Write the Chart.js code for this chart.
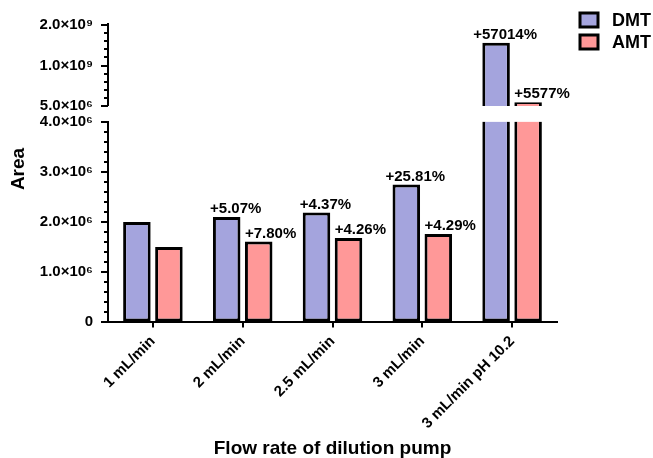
<!DOCTYPE html>
<html>
<head>
<meta charset="utf-8">
<script src="https://cdn.jsdelivr.net/npm/chart.js@4/dist/chart.umd.min.js"></script>
<style>
  html, body { margin: 0; padding: 0; background: #fff; }
  #wrap { width: 653px; height: 458px; }
</style>
</head>
<body>
<div id="wrap"><canvas id="areaChart"></canvas></div>
<script>
// flow rates (x axis)
const categories = ['1 mL/min', '2 mL/min', '2.5 mL/min', '3 mL/min', '3 mL/min pH 10.2'];
// peak areas
const dmtArea = [1.99e6, 2.09e6, 2.18e6, 2.74e6, 1.56e9];
const amtArea = [1.49e6, 1.60e6, 1.67e6, 1.75e6, 9.8e7];
// change vs previous flow rate, printed above the bars
const dmtChange = ['', '+5.07%', '+4.37%', '+25.81%', '+57014%'];
const amtChange = ['', '+7.80%', '+4.26%', '+4.29%', '+5577%'];

// broken y axis: lower part 0..4e6, upper part from 5e6 up
const lowerMax = 4.0e6;
const upperStart = 5.0e6;
const lowerTicks = [0, 1e6, 2e6, 3e6, 4e6];
const upperTicks = [5e6, 1e9, 2e9];

const colors = { DMT: '#a4a4dd', AMT: '#ff9898' };
const FONT = '"Liberation Sans", Arial, sans-serif';

Chart.defaults.font.family = FONT;
Chart.defaults.color = '#000';

function sciLabel(v) {
    if (v === 0) return '0';
    const exp = Math.floor(Math.log10(v) + 1e-9);
    const sup = { 6: '\u2076', 9: '\u2079' };
    return (v / Math.pow(10, exp)).toFixed(1) + '\u00d710' + sup[exp];
}

const lowPart = arr => arr.map(v => Math.min(v, lowerMax));
const highPart = arr => arr.map(v => v > lowerMax ? v : null);

function lowerSet(label, arr) {
    return {
        label: label,
        data: lowPart(arr),
        yAxisID: 'y',
        stack: label,
        backgroundColor: colors[label],
        borderColor: '#000',
        borderWidth: 3,
        // bars that go through the break lose their top edge
        borderSkipped: ctx => arr[ctx.dataIndex] > lowerMax ? 'top' : false
    };
}

function upperSet(label, arr) {
    return {
        label: label,
        data: highPart(arr),
        yAxisID: 'yTop',
        stack: label,
        base: upperStart,
        backgroundColor: colors[label],
        borderColor: '#000',
        borderWidth: 3,
        borderSkipped: 'bottom'
    };
}

// minor/major tick marks + upper axis line (stops at the break)
const axisMarks = {
    id: 'axisMarks',
    afterDraw(chart) {
        const ctx = chart.ctx;
        const low = chart.scales.y;
        const top = chart.scales.yTop;
        const x = low.right;
        ctx.save();
        ctx.strokeStyle = '#000';
        ctx.lineWidth = 2;
        ctx.beginPath();
        ctx.moveTo(x, top.getPixelForValue(upperStart));
        ctx.lineTo(x, top.top);
        ctx.stroke();

        const mark = (scale, v, len) => {
            const y = Math.round(scale.getPixelForValue(v));
            ctx.beginPath();
            ctx.moveTo(x - len, y);
            ctx.lineTo(x, y);
            ctx.stroke();
        };
        for (let v = 0; v <= lowerMax; v += 2e5) {
            mark(low, v, v % 1e6 === 0 ? 7 : 4);
        }
        upperTicks.forEach(v => mark(top, v, 7));
        for (let v = 2e8; v < 2e9; v += 2e8) {
            if (v % 1e9 !== 0) mark(top, v, 4);
        }
        ctx.restore();
    }
};

// percentage labels above the bars
const barLabels = {
    id: 'barLabels',
    afterDatasetsDraw(chart) {
        const ctx = chart.ctx;
        ctx.save();
        ctx.font = 'bold 15px ' + FONT;
        ctx.fillStyle = '#000';
        ctx.textBaseline = 'alphabetic';
        const groups = [
            { texts: dmtChange, vals: dmtArea, lo: 0, hi: 2, align: 'center' },
            { texts: amtChange, vals: amtArea, lo: 1, hi: 3, align: 'left' }
        ];
        groups.forEach(g => {
            g.texts.forEach((t, i) => {
                if (!t) return;
                const bar = chart.getDatasetMeta(g.vals[i] > lowerMax ? g.hi : g.lo).data[i];
                ctx.textAlign = g.align;
                if (g.align === 'center') {
                    ctx.fillText(t, bar.x + 9, bar.y - 4);
                } else {
                    ctx.fillText(t, bar.x - bar.width / 2, bar.y - 4);
                }
            });
        });
        ctx.restore();
    }
};

// legend box top-right and the y title spanning both axis parts
const sideText = {
    id: 'sideText',
    afterDraw(chart) {
        const ctx = chart.ctx;
        ctx.save();
        ctx.fillStyle = '#000';
        ctx.font = 'bold 19px ' + FONT;
        ctx.textAlign = 'center';
        ctx.textBaseline = 'middle';
        ctx.translate(19, 169);
        ctx.rotate(-Math.PI / 2);
        ctx.fillText('Area', 0, 0);
        ctx.restore();

        ctx.save();
        ctx.font = 'bold 18px ' + FONT;
        ctx.textAlign = 'left';
        ctx.textBaseline = 'middle';
        ['DMT', 'AMT'].forEach((name, i) => {
            const y = 13 + i * 22;
            ctx.fillStyle = colors[name];
            ctx.fillRect(580, y, 18, 14);
            ctx.strokeStyle = '#000';
            ctx.lineWidth = 3;
            ctx.strokeRect(580, y, 18, 14);
            ctx.fillStyle = '#000';
            ctx.fillText(name, 612, y + 8);
        });
        ctx.restore();
    }
};

const tickFont = { size: 15, weight: 'bold' };

new Chart(document.getElementById('areaChart'), {
    type: 'bar',
    data: {
        labels: categories,
        datasets: [
            lowerSet('DMT', dmtArea),
            lowerSet('AMT', amtArea),
            upperSet('DMT', dmtArea),
            upperSet('AMT', amtArea)
        ]
    },
    options: {
        responsive: true,
        maintainAspectRatio: false,
        animation: false,
        events: [],
        layout: { padding: { left: 30, right: 96, top: 23, bottom: 0 } },
        datasets: {
            bar: { categoryPercentage: 0.713, barPercentage: 0.86 }
        },
        plugins: {
            legend: { display: false },
            tooltip: { enabled: false }
        },
        scales: {
            x: {
                grid: { display: true, drawOnChartArea: false, offset: false, color: '#000', lineWidth: 2, tickLength: 6 },
                border: { color: '#000', width: 2 },
                ticks: { font: tickFont, minRotation: 45, maxRotation: 45, autoSkip: false, padding: 5 },
                title: {
                    display: true,
                    text: 'Flow rate of dilution pump',
                    font: { size: 19, weight: 'bold' },
                    padding: { top: 0, bottom: -2 }
                },
                afterFit: s => { s.height = 136.5; }
            },
            y: {
                position: 'left',
                stack: 'area',
                stackWeight: 200,
                stacked: false,
                min: 0,
                max: lowerMax,
                afterBuildTicks: s => { s.ticks = lowerTicks.map(v => ({ value: v })); },
                ticks: { callback: v => sciLabel(v), font: tickFont, padding: 7, autoSkip: false },
                grid: { display: false },
                border: { color: '#000', width: 2 },
                afterFit: s => { s.width = 78; }
            },
            yTop: {
                position: 'left',
                stack: 'area',
                stackWeight: 98.5,
                stacked: false,
                min: -0.377e9,
                max: 2.049e9,
                afterBuildTicks: s => { s.ticks = upperTicks.map(v => ({ value: v })); },
                ticks: { callback: v => sciLabel(v), font: tickFont, padding: 7, autoSkip: false },
                grid: { display: false },
                border: { display: false },
                afterFit: s => { s.width = 78; }
            }
        }
    },
    plugins: [axisMarks, barLabels, sideText]
});
</script>
</body>
</html>
